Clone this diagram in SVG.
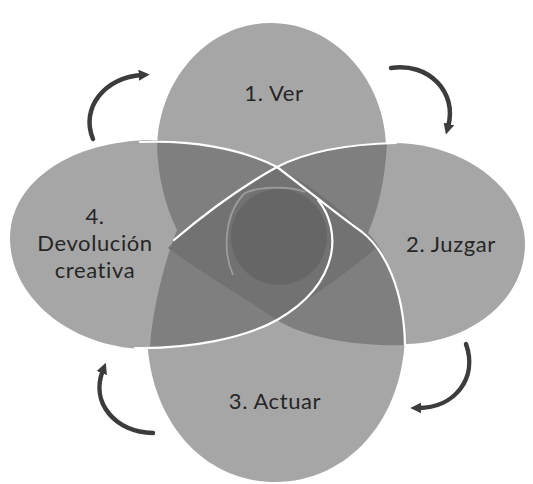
<svg xmlns="http://www.w3.org/2000/svg" width="533" height="484" viewBox="0 0 533 484">
<defs>
<style>
.lobe{fill:#a6a6a6}
.lbl{font-family:Lato,"Open Sans","DejaVu Sans",sans-serif;font-size:22px;letter-spacing:0.6px;fill:#262626;text-anchor:middle}
.wl{fill:none;stroke:#ffffff;stroke-width:2.2;stroke-linecap:round}
.arw{fill:none;stroke:#3c3c3c;stroke-width:4.5;stroke-linecap:round}
</style>
<marker id="ah" viewBox="0 0 10 10" refX="3" refY="5" markerWidth="11" markerHeight="11" markerUnits="userSpaceOnUse" orient="auto">
<path d="M0,0 L10,5 L0,10 Z" fill="#3c3c3c"/>
</marker>
</defs>
<rect width="533" height="484" fill="#ffffff"/>

<g id="node-ver">
<path class="lobe" d="M271,23 C334,23 386,80 386,150 L386,240 L157,240 L157,150 C157,80 208,23 271,23 Z"/>
</g>
<g id="node-juzgar">
<path class="lobe" d="M393,143 C465,143 525,190 525,244 C525,300 470,343 405,344 L300,344 L300,143 Z"/>
</g>
<g id="node-actuar">
<path class="lobe" d="M147,330 C147,420 203,482 275,482 C347,482 405,420 405,330 L405,300 L147,300 Z"/>
</g>
<g id="node-devolucion">
<path class="lobe" d="M160,140 C75,138 10,180 10,238 C10,300 75,350 150,349 L280,340 L280,150 Z"/>
</g>

<g id="overlaps">
<path fill="#7f7f7f" d="M157,140 C190,140 240,150 277,167 C310,152 350,143 387,144 C385,180 378,210 368,233 C385,250 404,290 405,345 C360,347 305,338 277,320 C250,335 205,348 150,348 C152,310 165,260 177,230 C165,205 157,175 157,140 Z"/>
<path fill="#727272" d="M277,167 C250,182 205,210 168,248 C200,272 245,298 277,320 C310,298 345,275 376,248 C360,225 320,190 277,167 Z"/>
<circle cx="279" cy="237" r="48" fill="#666666"/>
<path fill="none" stroke="#ffffff" stroke-opacity="0.3" stroke-width="1.8" d="M233,275 C222,250 225,212 245,193 C260,186 290,186 305,192"/>
<path class="wl" d="M140,142 C190,140 240,148 277,167 C305,188 335,213 362,232 C385,250 404,290 405,345"/>
<path class="wl" d="M396,143 C350,144 310,150 277,167 C250,182 215,205 174,240"/>
<path class="wl" d="M135,348 C190,349 245,338 277,320 C305,304 325,282 331,255 C335,235 330,215 318,200"/>
</g>

<g id="connectors">
<path class="arw" marker-end="url(#ah)" d="M93,139 C80,108 105,77 142,75"/>
<path class="arw" marker-end="url(#ah)" d="M391,68 C428,62 458,92 448,127"/>
<path class="arw" marker-end="url(#ah)" d="M466,344 C478,378 455,408 418,408"/>
<path class="arw" marker-end="url(#ah)" d="M153,433 C115,432 90,403 103,370"/>
</g>

<g id="labels">
<text class="lbl" x="274" y="101">1. Ver</text>
<text class="lbl" x="451" y="252">2. Juzgar</text>
<text class="lbl" x="275" y="409">3. Actuar</text>
<text class="lbl" x="95" y="224">4.</text>
<text class="lbl" x="95" y="251">Devolución</text>
<text class="lbl" x="95" y="278">creativa</text>
</g>
</svg>
